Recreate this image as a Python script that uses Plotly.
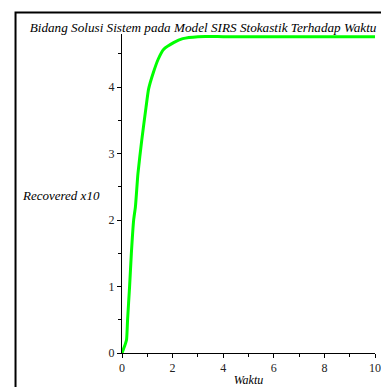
import plotly.graph_objects as go

# Data
waktu = [0, 0.1, 0.18, 0.22, 0.3, 0.37, 0.46, 0.53, 0.63, 0.78, 0.95, 1.05, 1.24,
         1.43, 1.65, 2.04, 2.4, 3.0, 4, 5, 6, 7, 8, 9, 10]
recovered = [0, 0.1, 0.2, 0.5, 1.0, 1.5, 2.0, 2.2, 2.7, 3.2, 3.7, 3.97, 4.22,
             4.42, 4.57, 4.67, 4.73, 4.76, 4.76, 4.76, 4.76, 4.76, 4.76, 4.76, 4.76]
x_ticks = [0, 2, 4, 6, 8, 10]
y_ticks = [0, 1, 2, 3, 4]

title_text = "Bidang Solusi Sistem pada Model SIRS Stokastik Terhadap Waktu"
x_title = "Waktu"
y_title = "Recovered x10"

serif = "Liberation Serif, serif"

fig = go.Figure()
fig.add_trace(go.Scatter(x=waktu, y=recovered, mode="lines",
                         line=dict(color="#00ff00", width=3, shape="spline", smoothing=0.5),
                         cliponaxis=False, showlegend=False))

fig.update_layout(
    width=381, height=387,
    margin=dict(l=122, r=0, t=34, b=34),
    paper_bgcolor="white", plot_bgcolor="white",
    font=dict(family=serif, color="black", size=12),
    title=dict(text=title_text, x=0.533, xref="container", xanchor="center",
               y=1 - 27.5 / 387, yref="container", yanchor="middle",
               font=dict(family=serif, size=13.2, color="black", style="italic")),
    xaxis=dict(range=[0, 10], tickvals=x_ticks, ticktext=[str(v) for v in x_ticks],
               ticklabeloverflow="allow",
               showgrid=False, zeroline=False, showline=True, linecolor="black", linewidth=1,
               ticks="outside", ticklen=4, tickcolor="black",
               minor=dict(dtick=1, ticks="outside", ticklen=3, tickcolor="black"),
               tickfont=dict(family=serif, size=12, color="#222"),
               title=dict(text=x_title, standoff=2,
                          font=dict(family=serif, size=12, style="italic", color="black"))),
    yaxis=dict(range=[0, 4.8], tickvals=y_ticks, ticktext=[str(v) for v in y_ticks],
               showgrid=False, zeroline=False, showline=True, linecolor="black", linewidth=1,
               ticks="outside", ticklen=4, tickcolor="black",
               minor=dict(dtick=0.5, ticks="outside", ticklen=3, tickcolor="black"),
               tickfont=dict(family=serif, size=12, color="#222")),
    annotations=[dict(text=y_title, xref="paper", yref="paper",
                      x=(60 - 122) / 259, y=(353 - 195) / 319,
                      xanchor="center", yanchor="middle", showarrow=False,
                      font=dict(family=serif, size=13, style="italic", color="black"))],
    shapes=[dict(type="rect", xref="paper", yref="paper",
                 x0=(13 - 122) / 259, x1=1.2, y0=-0.3, y1=(353 - 12.5) / 319,
                 line=dict(color="black", width=2), fillcolor="rgba(0,0,0,0)", layer="below")],
)

fig.write_html("out.html")
